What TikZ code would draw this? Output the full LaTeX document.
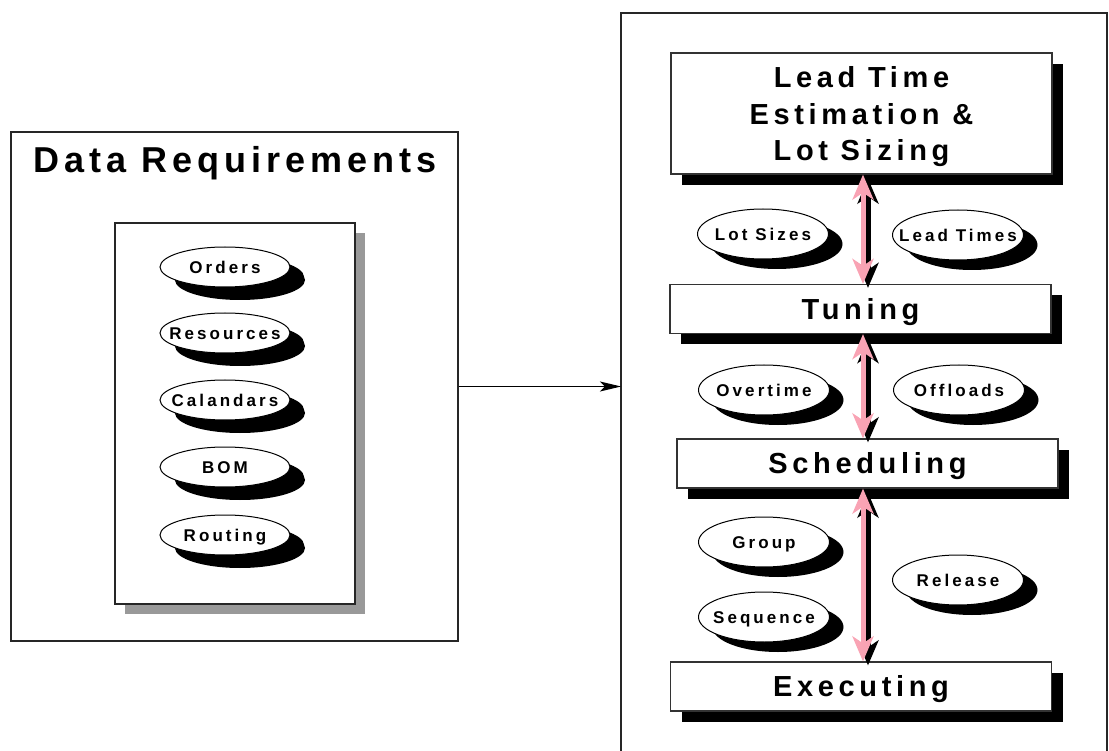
\documentclass[tikz,border=0pt]{standalone}
\usepackage{fontspec}
\setmainfont{Liberation Sans}
\newfontfamily\dreqfont{Liberation Sans}[LetterSpace=14]
\newfontfamily\stagefont{Liberation Sans}[LetterSpace=16]
\newfontfamily\ovalfont{Liberation Sans}[LetterSpace=18]
\usetikzlibrary{arrows.meta,shapes.geometric,shadows}
\definecolor{arrowpink}{RGB}{249,163,180}
\definecolor{panelgray}{RGB}{153,153,153}
\newcommand\olabel[1]{\makebox[0pt]{#1}}

\begin{document}
\begin{tikzpicture}[x=1pt,y=-1pt,
  frame/.style={draw=black!85, line width=1.3pt},
  stagebox/.style={draw=black!80, line width=1.2pt, fill=white,
    minimum width=381pt, minimum height=49pt, inner sep=0pt,
    text height=20.8pt, text depth=0pt,
    font=\stagefont\bfseries\fontsize{29}{36.5}\selectfont,
    drop shadow={shadow xshift=11pt, shadow yshift=-11pt, fill=black, opacity=1}},
  oval/.style={ellipse, draw=black, line width=1pt, fill=white,
    minimum width=131pt, minimum height=50pt, inner sep=0pt,
    text height=12.2pt, text depth=0pt,
    font=\ovalfont\bfseries\fontsize{17}{20}\selectfont,
    drop shadow={shadow xshift=14pt, shadow yshift=-10pt, fill=black, opacity=1}},
  dataoval/.style={oval, minimum width=130pt, minimum height=40pt,
    drop shadow={shadow xshift=15pt, shadow yshift=-13pt, fill=black, opacity=1}},
  twoway/.style={line width=5pt,
    {Stealth[length=25pt, width=21pt, inset=7pt]}-{Stealth[length=25pt, width=21pt, inset=7pt]}},
  conn/.style={line width=1.2pt, -{Stealth[length=21pt, width=10pt, inset=5pt]}}
]
\useasboundingbox (0,0) rectangle (1109,751);

% ---------- data requirements panel ----------
\node[frame, rectangle, minimum width=447pt, minimum height=509pt, inner sep=0pt]
  (dreq) at (234.5,386.5) {};
\node[anchor=base, font=\dreqfont\bfseries\fontsize{36}{43}\selectfont]
  (dtitle) at (235,173) {Data Requirements};
\node[rectangle, draw=black!85, line width=1.2pt, fill=white,
  minimum width=240pt, minimum height=381pt, inner sep=0pt,
  drop shadow={shadow xshift=10pt, shadow yshift=-10pt, fill=panelgray, opacity=1}]
  (inner) at (235,413.5) {};
\node[dataoval] (orders) at (225,267) {\olabel{Orders}};
\node[dataoval] (resources) at (225,333) {\olabel{Resources}};
\node[dataoval] (calendars) at (225,400) {\olabel{Calandars}};
\node[dataoval] (bom) at (225,467) {\olabel{BOM}};
\node[dataoval] (routing) at (225,535) {\olabel{Routing}};

% ---------- planning hierarchy panel ----------
\begin{scope}
  \clip (0,0) rectangle (1109,751);
  \draw[frame] (621,770) -- (621,13) -- (1107,13) -- (1107,770);
\end{scope}
\coordinate (rfw) at (621,386.5);
\draw[conn] (dreq.east) -- (rfw);

\node[stagebox, minimum height=121pt, align=center, text height=, text depth=0pt]
  (lead) at (861.5,113.5) {Lead Time\\Estimation \&\\Lot Sizing};
\node[stagebox] (tuning) at (860.5,309) {Tuning};
\node[stagebox] (sched) at (867.5,463.5) {Scheduling};
\node[stagebox] (exec) at (861,686.5) {Executing};

\node[oval] (lotsizes) at (763,234) {\olabel{Lot Sizes}};
\node[oval] (leadtimes) at (958,235) {\olabel{Lead Times}};
\node[oval] (overtime) at (764,390) {\olabel{Overtime}};
\node[oval] (offloads) at (959,390) {\olabel{Offloads}};
\node[oval] (group) at (764,542) {\olabel{Group}};
\node[oval] (sequence) at (764,617) {\olabel{Sequence}};
\node[oval] (release) at (958,580) {\olabel{Release}};

% two-way links between the stages, with a black offset shadow
\coordinate (axis) at (863,0);
\begin{scope}[transform canvas={xshift=5pt, yshift=-4pt}]
  \draw[twoway, draw=black, fill=black] (lead.south -| axis) -- (tuning.north -| axis);
  \draw[twoway, draw=black, fill=black] (tuning.south -| axis) -- (sched.north -| axis);
  \draw[twoway, draw=black, fill=black] (sched.south -| axis) -- (exec.north -| axis);
\end{scope}
\draw[twoway, draw=arrowpink, fill=arrowpink] (lead.south -| axis) -- (tuning.north -| axis);
\draw[twoway, draw=arrowpink, fill=arrowpink] (tuning.south -| axis) -- (sched.north -| axis);
\draw[twoway, draw=arrowpink, fill=arrowpink] (sched.south -| axis) -- (exec.north -| axis);
\end{tikzpicture}
\end{document}
